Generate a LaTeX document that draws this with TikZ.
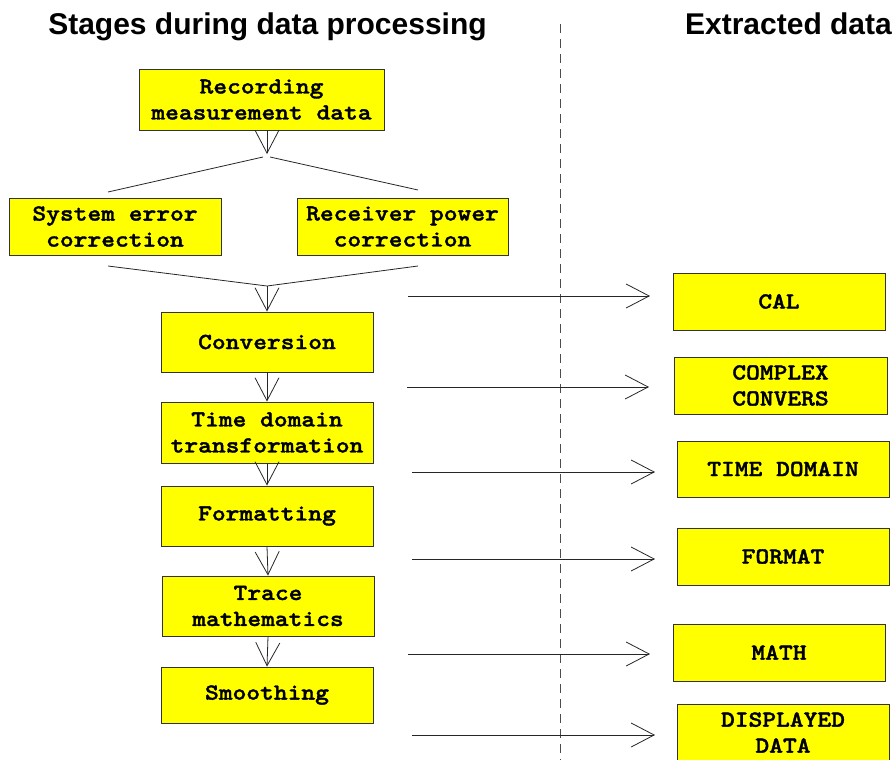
\documentclass[tikz,border=0pt]{standalone}
\usepackage{fontspec}
\usetikzlibrary{arrows.meta,calc}
\newfontfamily\titlefont{Liberation Sans}
\newfontfamily\boxfont{lmmonolt10-bold.otf}[FakeStretch=1.14, FakeBold=1.6]
\definecolor{boxyellow}{RGB}{255,255,0}
\tikzset{
  box/.style={draw=black!80, fill=boxyellow, line width=0.9pt, minimum width=212pt,
    minimum height=57pt, inner sep=0pt, align=center,
    font=\boxfont\fontsize{23}{26}\selectfont},
  ttl/.style={font=\titlefont\bfseries\fontsize{30}{34}\selectfont, anchor=base, inner sep=0pt},
  conn/.style={draw=black!85, line width=0.8pt},
  arr/.style={conn, -{Straight Barb[length=23pt,width=24pt]}},
  divider/.style={draw=black!70, line width=0.9pt, dash pattern=on 9pt off 6pt},
}
\begin{document}
\begin{tikzpicture}[x=1pt,y=-1pt]
\useasboundingbox (0,0) rectangle (894,760);
\clip (0,0) rectangle (894,760);
% titles
\node[ttl] (t1) at (267.5,35) {Stages during data processing};
\node[ttl] (t2) at (788.5,35) {Extracted data};
% divider
\coordinate (dtop) at (560,24);
\coordinate (dbot) at (560,762);
\draw[divider] (dtop) -- (dbot);
% left column
\node[box, minimum width=245pt, minimum height=61pt] (rec) at (261.5,99.5) {Recording\\measurement data};
\node[box] (sys) at (115,226.5) {System error\\correction};
\node[box, minimum width=211pt] (rcv) at (402.5,226.5) {Receiver power\\correction};
\node[box, minimum height=60pt] (conv) at (267,342) {Conversion};
\node[box, minimum height=61pt] (tdt) at (267,432.5) {Time domain\\transformation};
\node[box, minimum height=60pt] (fmt) at (267,516) {Formatting};
\node[box, minimum height=60pt] (trc) at (268,606) {Trace\\mathematics};
\node[box, minimum height=56pt] (smo) at (267,695) {Smoothing};
% right column
\node[box] (cal) at (779,301.5) {CAL};
\node[box, minimum width=213pt] (cpx) at (780.5,385.5) {COMPLEX\\CONVERS};
\node[box, minimum height=56pt] (tdm) at (783,469) {TIME DOMAIN};
\node[box] (fmx) at (783,556.5) {FORMAT};
\node[box] (mth) at (779,652.5) {MATH};
\node[box] (dsp) at (783,732.5) {DISPLAYED\\DATA};
% fork below recording
\coordinate (tip1) at (267,154);
\coordinate (forkL) at (263,157);
\coordinate (forkR) at (270,157);
\coordinate (sysT) at (108,192);
\coordinate (rcvT) at (418,190);
\draw[arr] (rec.south -| tip1) -- (tip1);
\draw[conn] (forkL) -- (sysT);
\draw[conn] (forkR) -- (rcvT);
% merge into conversion
\coordinate (sysB) at (108,266);
\coordinate (rcvB) at (418,266);
\coordinate (merge) at (267,286);
\draw[conn] (sysB) -- (merge) -- (rcvB);
\draw[arr] (merge) -- (conv.north);
% chain
\draw[arr] (conv.south) -- (tdt.north);
\draw[arr] (tdt.south) -- (fmt.north);
\draw[arr] (fmt.south) -- (trc.north);
\draw[arr] (trc.south) -- (smo.north);
% extraction arrows
\coordinate (a1s) at (408,296); \coordinate (a1e) at (650,296);
\coordinate (a2s) at (407,387); \coordinate (a2e) at (649,387);
\coordinate (a3s) at (412,472); \coordinate (a3e) at (655,472);
\coordinate (a4s) at (412,559); \coordinate (a4e) at (655,559);
\coordinate (a5s) at (408,654); \coordinate (a5e) at (650,654);
\coordinate (a6s) at (412,735); \coordinate (a6e) at (655,735);
\foreach \i in {1,...,6} {\draw[arr] (a\i s) -- (a\i e);}
\end{tikzpicture}
\end{document}
